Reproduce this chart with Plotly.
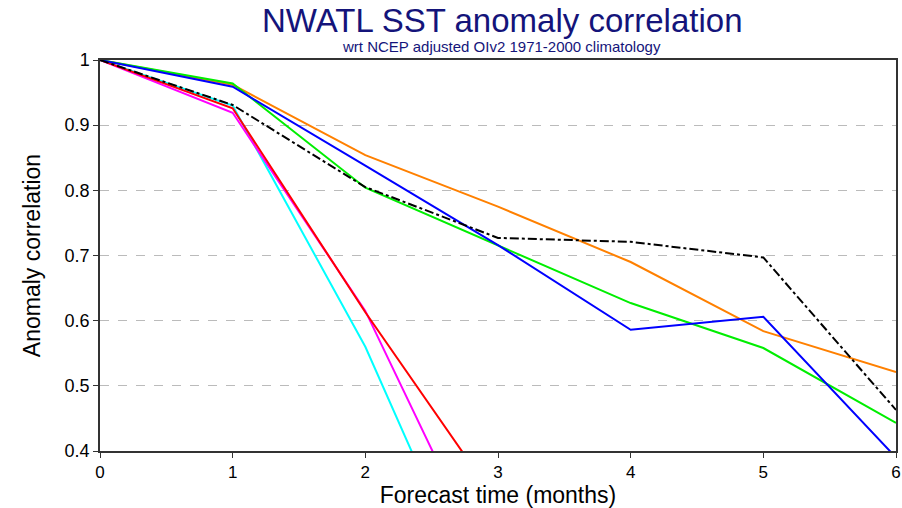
import plotly.graph_objects as go

months = [0, 1, 2, 3, 4, 5, 6]
orange = [1.0, 0.962, 0.854, 0.775, 0.690, 0.584, 0.521]
green = [1.0, 0.964, 0.804, 0.716, 0.627, 0.558, 0.443]
blue = [1.0, 0.959, 0.838, 0.716, 0.586, 0.606, 0.39]
black = [1.0, 0.931, 0.805, 0.727, 0.721, 0.697, 0.463]
red = [1.0, 0.926, 0.613, 0.32, 0.1, 0.0, 0.0]
magenta = [1.0, 0.919, 0.615, 0.19, 0.0, 0.0, 0.0]
cyan = [1.0, 0.93, 0.56, 0.10, 0.0, 0.0, 0.0]

yticks = [0.4, 0.5, 0.6, 0.7, 0.8, 0.9, 1.0]
yticklabels = ["0.4", "0.5", "0.6", "0.7", "0.8", "0.9", "1"]

FONT = "Liberation Sans, Arial, sans-serif"
NAVY = "#14147a"

series = [
    ("cyan", cyan, "#00ffff", "solid"),
    ("magenta", magenta, "#ff00ff", "solid"),
    ("red", red, "#ff0000", "solid"),
    ("orange", orange, "#ff8000", "solid"),
    ("green", green, "#00ee00", "solid"),
    ("blue", blue, "#0000ff", "solid"),
    ("black", black, "#000000", "dashdot"),
]

fig = go.Figure()
for name, vals, col, dash in series:
    fig.add_trace(go.Scatter(x=months, y=vals, mode="lines", name=name,
                             line=dict(color=col, width=2, dash=dash),
                             showlegend=False))

W, H = 902, 508
pl, pr, pt, pb = 100, 6, 60, 57
pw, ph = W - pl - pr, H - pt - pb

fig.update_layout(
    width=W, height=H,
    margin=dict(l=pl, r=pr, t=pt, b=pb),
    plot_bgcolor="white", paper_bgcolor="white",
    font=dict(family=FONT, color="black"),
    annotations=[
        dict(text="NWATL SST anomaly correlation", x=(502 - pl) / pw, y=1 + (pt - 21) / ph,
             xref="paper", yref="paper", xanchor="center", yanchor="middle",
             showarrow=False, font=dict(size=33, color=NAVY, family=FONT)),
        dict(text="wrt NCEP adjusted OIv2 1971-2000 climatology", x=(501 - pl) / pw,
             y=1 + (pt - 46) / ph, xref="paper", yref="paper", xanchor="center", yanchor="middle",
             showarrow=False, font=dict(size=15, color=NAVY, family=FONT)),
    ],
)

fig.update_xaxes(range=[0, 6], tickvals=months, ticks="outside", ticklen=5, tickcolor="#333",
                 showgrid=False, zeroline=False, showline=True, linecolor="#333", linewidth=1.5,
                 mirror=True, tickfont=dict(size=17), ticklabeloverflow="allow", automargin=False,
                 title=dict(text="Forecast time (months)", font=dict(size=23), standoff=3))
fig.update_yaxes(range=[0.4, 1.0], tickvals=yticks, ticktext=yticklabels, ticks="outside",
                 ticklen=5, tickcolor="#333", showgrid=True, gridcolor="#bbbbbb", griddash="dash",
                 gridwidth=1, zeroline=False, showline=True, linecolor="#333", linewidth=1.5,
                 mirror=True, tickfont=dict(size=18), automargin=False,
                 title=dict(text="Anomaly correlation", font=dict(size=23), standoff=18))

fig.write_html("out.html")
